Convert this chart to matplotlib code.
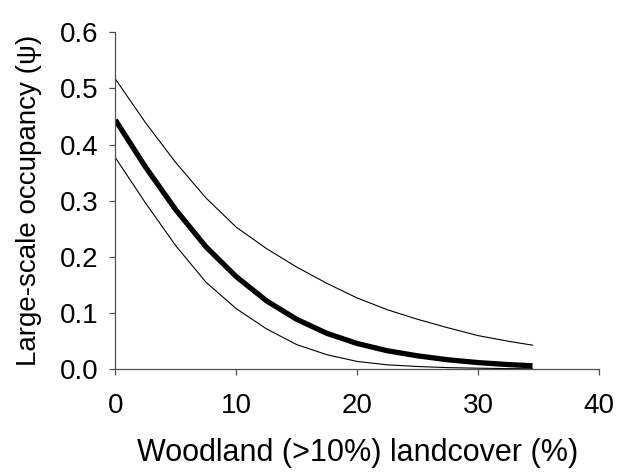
import numpy as np
import matplotlib
matplotlib.use('Agg')
import matplotlib.pyplot as plt
from matplotlib.ticker import FormatStrFormatter

# ── Data ──
woodland = [0, 2.5, 5, 7.5, 10, 12.5, 15, 17.5, 20, 22.5, 25, 27.5, 30, 32.5, 34.5]
psi_mean = [0.444, 0.360, 0.284, 0.218, 0.165, 0.122, 0.089, 0.064, 0.046,
            0.033, 0.024, 0.017, 0.012, 0.0084, 0.0063]
psi_upper = [0.517, 0.439, 0.368, 0.305, 0.253, 0.215, 0.182, 0.153, 0.127,
             0.106, 0.089, 0.074, 0.060, 0.050, 0.043]
psi_lower = [0.377, 0.296, 0.220, 0.155, 0.108, 0.072, 0.044, 0.026, 0.014,
             0.008, 0.005, 0.003, 0.002, 0.0013, 0.001]

x_ticks = [0, 10, 20, 30, 40]
y_ticks = [0.0, 0.1, 0.2, 0.3, 0.4, 0.5, 0.6]

plt.rcParams['font.family'] = ['Liberation Sans', 'DejaVu Sans']

fig = plt.figure(figsize=(6.18, 4.73), dpi=100)
ax = fig.add_axes([0.1866, 0.2192, 0.9693 - 0.1866, 0.9317 - 0.2192])

ax.plot(woodland, psi_upper, color='black', linewidth=0.8)
ax.plot(woodland, psi_lower, color='black', linewidth=0.8)
ax.plot(woodland, psi_mean, color='black', linewidth=3.8, solid_capstyle='butt')

ax.set_xlim(0, 40)
ax.set_ylim(0, 0.6)
ax.set_xticks(x_ticks)
ax.set_yticks(y_ticks)
ax.yaxis.set_major_formatter(FormatStrFormatter('%.1f'))

for side in ('top', 'right'):
    ax.spines[side].set_visible(False)
for side in ('left', 'bottom'):
    ax.spines[side].set_color('#505050')
    ax.spines[side].set_linewidth(0.9)

ax.tick_params(axis='both', direction='out', length=4, width=0.9,
               color='#505050', labelsize=20)
ax.tick_params(axis='y', pad=8)
ax.tick_params(axis='x', pad=13)

ax.set_xlabel('Woodland (>10%) landcover (%)', fontsize=22, labelpad=14)
ax.set_ylabel('Large-scale occupancy (\u03c8)', fontsize=20, labelpad=13)

fig.savefig('out.png', dpi=100)
